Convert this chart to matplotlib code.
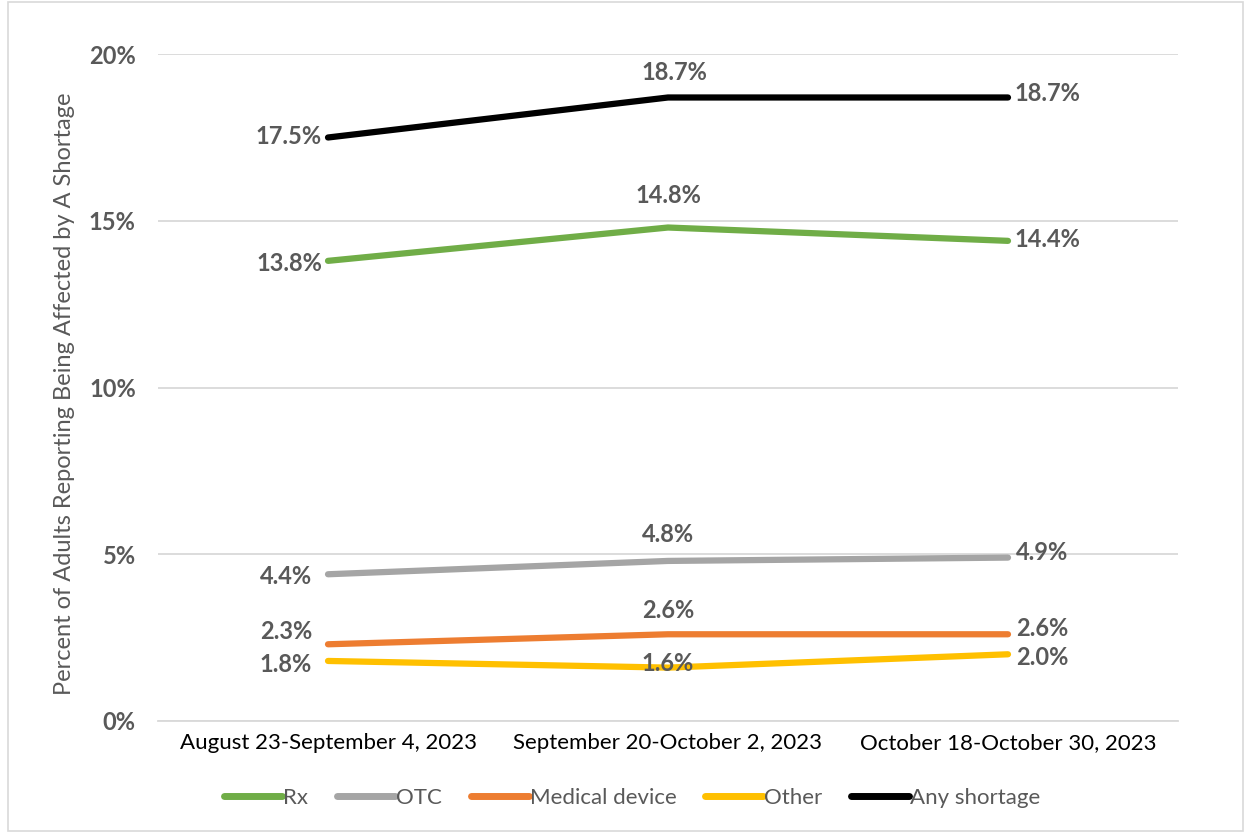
import matplotlib.pyplot as plt
from matplotlib.patches import Rectangle

# data
periods = ["August 23-September 4, 2023", "September 20-October 2, 2023", "October 18-October 30, 2023"]
rx = [13.8, 14.8, 14.4]
otc = [4.4, 4.8, 4.9]
medical = [2.3, 2.6, 2.6]
other = [1.8, 1.6, 2.0]
any_short = [17.5, 18.7, 18.7]

series = [
    ("Rx", rx, "#70ad47"),
    ("OTC", otc, "#a5a5a5"),
    ("Medical device", medical, "#ed7d31"),
    ("Other", other, "#ffc000"),
    ("Any shortage", any_short, "#000000"),
]

# label offsets in pixels (dx, dy, ha) for first / middle / last point
label_pos = {
    "Rx": [(-6, -3, "right"), (0, 32, "center"), (6, 1, "left")],
    "OTC": [(-16, -2, "right"), (0, 26, "center"), (8, 5, "left")],
    "Medical device": [(-16, 13, "right"), (0, 24, "center"), (8, 6, "left")],
    "Other": [(-16, -4, "right"), (0, 4, "center"), (8, -3, "left")],
    "Any shortage": [(-6, 1, "right"), (6, 25, "center"), (6, 4, "left")],
}

plt.rcParams['font.family'] = ['Lato', 'DejaVu Sans']

fig = plt.figure(figsize=(12.5, 8.33), dpi=100)
ax = fig.add_axes([0.1264, 0.1345, 0.816, 0.8005])

x = list(range(len(periods)))
for name, vals, col in series:
    ax.plot(x, vals, color=col, linewidth=4.5, solid_capstyle='round', label=name, zorder=3)
    for i, v in enumerate(vals):
        dx, dy, ha = label_pos[name][i]
        ax.annotate(f"{v:.1f}%", (i, v), xytext=(dx, dy), textcoords='offset pixels',
                    ha=ha, va='center', fontsize=17, fontweight='bold', color='#595959', zorder=4)

ax.set_xlim(-0.5, 2.5)
ax.set_ylim(0, 20)
ax.set_yticks([0, 5, 10, 15, 20])
ax.set_yticklabels(["0%", "5%", "10%", "15%", "20%"])
ax.set_xticks(x)
ax.set_xticklabels(periods)
ax.grid(axis='y', color='#d9d9d9', linewidth=1.3, zorder=0)
ax.tick_params(axis='y', length=0, pad=16, labelsize=17, labelcolor='#595959')
ax.tick_params(axis='x', length=0, pad=9, labelsize=16, labelcolor='#000000')
for lab in ax.get_yticklabels():
    lab.set_fontweight('bold')
for s in ['top', 'right', 'left']:
    ax.spines[s].set_visible(False)
ax.spines['bottom'].set_color('#d9d9d9')
ax.spines['bottom'].set_linewidth(1.3)

ax.set_ylabel("Percent of Adults Reporting Being Affected by A Shortage", fontsize=17, color='#595959')
ax.yaxis.set_label_coords(-0.081, 0.49)

leg = fig.legend(loc='center', bbox_to_anchor=(0.506, 0.042), ncol=5, frameon=False,
                 fontsize=16, handlelength=2.6, handletextpad=0.05, columnspacing=1.3)
for t in leg.get_texts():
    t.set_color('#595959')
for h in leg.get_lines():
    h.set_linewidth(5)
    h.set_solid_capstyle('round')

# light border around the whole chart
fig.patches.append(Rectangle((0.006, 0.002), 0.988, 0.996, transform=fig.transFigure,
                             fill=False, edgecolor='#d9d9d9', linewidth=1.2))

plt.savefig("out.png", dpi=100)
